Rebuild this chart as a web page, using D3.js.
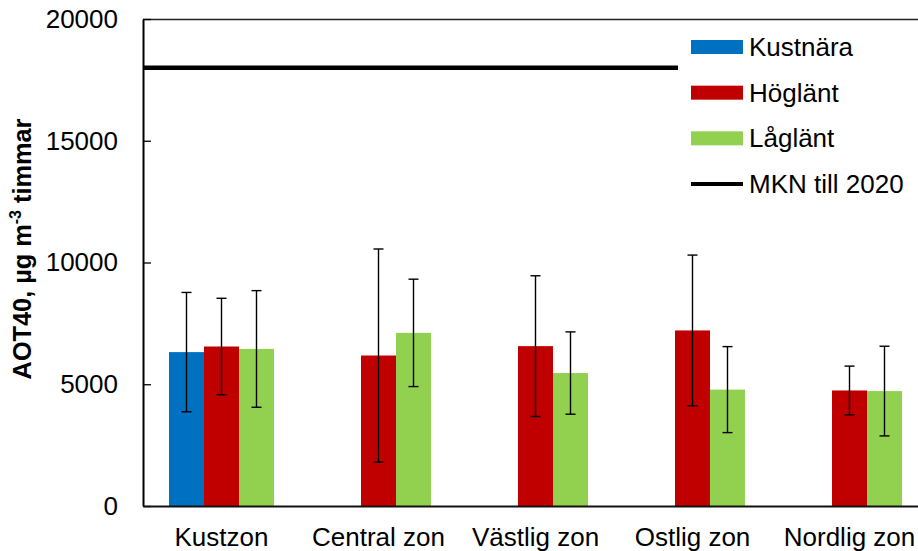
<!DOCTYPE html>
<html><head><meta charset="utf-8">
<script src="https://cdn.jsdelivr.net/npm/d3@7"></script>
<style>
html,body{margin:0;padding:0;background:#fff;overflow:hidden}
text{font-family:"Liberation Sans",Arial,sans-serif;}
</style></head>
<body><svg id="c" width="918" height="551"></svg>
<script>
const categories = ["Kustzon","Central zon","Västlig zon","Ostlig zon","Nordlig zon"];
const seriesNames = ["Kustnära","Höglänt","Låglänt"];
const seriesColors = ["#0070C0","#C00000","#92D050"];
const kustnara = [6320, null, null, null, null];
const kustnaraErr = [2450, null, null, null, null];
const hoglant = [6550, 6180, 6565, 7210, 4745];
const hoglantErr = [1980, 4375, 2890, 3095, 1000];
const laglant = [6450, 7110, 5460, 4780, 4720];
const laglantErr = [2395, 2205, 1690, 1766, 1842];
const mknValue = 18000;
const mknLabel = "MKN till 2020";
const yTicks = [0, 5000, 10000, 15000, 20000];

(function(){
const svg = d3.select("#c");
const pLeft = 143, pRight = 928, pTop = 19, pBottom = 506;
const fs = 26;

const y = d3.scaleLinear().domain([0, 20000]).range([pBottom, pTop]);
const x0 = d3.scaleBand().domain(categories).range([pLeft, pRight]).padding(0);
const x1 = d3.scaleBand().domain(seriesNames).range([0, x0.bandwidth()]).paddingInner(0).paddingOuter(0.743);

const values = [kustnara, hoglant, laglant];
const errs = [kustnaraErr, hoglantErr, laglantErr];

const data = [];
categories.forEach((c, i) => {
  seriesNames.forEach((s, j) => {
    if (values[j][i] != null) data.push({c, s, j, v: values[j][i], e: errs[j][i]});
  });
});

// bars
svg.append("g").selectAll("rect").data(data).join("rect")
  .attr("x", d => x0(d.c) + x1(d.s))
  .attr("y", d => y(d.v))
  .attr("width", x1.bandwidth())
  .attr("height", d => y(0) - y(d.v))
  .attr("fill", d => seriesColors[d.j]);

// error bars
const eg = svg.append("g").attr("stroke", "#000").attr("stroke-width", 1.4);
data.forEach(d => {
  const cx = x0(d.c) + x1(d.s) + x1.bandwidth() / 2;
  eg.append("line").attr("x1", cx).attr("x2", cx).attr("y1", y(d.v + d.e)).attr("y2", y(d.v - d.e));
  eg.append("line").attr("x1", cx - 5).attr("x2", cx + 5).attr("y1", y(d.v + d.e)).attr("y2", y(d.v + d.e));
  eg.append("line").attr("x1", cx - 5).attr("x2", cx + 5).attr("y1", y(d.v - d.e)).attr("y2", y(d.v - d.e));
});

// MKN line
svg.append("line").attr("x1", pLeft).attr("x2", pRight)
  .attr("y1", y(mknValue)).attr("y2", y(mknValue))
  .attr("stroke", "#000").attr("stroke-width", 4.5);

// top border
svg.append("line").attr("x1", pLeft).attr("x2", pRight).attr("y1", pTop + 0.5).attr("y2", pTop + 0.5)
  .attr("stroke", "#222").attr("stroke-width", 1.5);

// y axis
const yAxis = d3.axisLeft(y).tickValues(yTicks).tickSizeInner(-8).tickSizeOuter(0).tickPadding(25).tickFormat(d3.format("d"));
const yg = svg.append("g").attr("transform", `translate(${pLeft},0)`).call(yAxis);
yg.select(".domain").attr("stroke", "#000").attr("stroke-width", 2);
yg.selectAll(".tick line").attr("stroke", "#000").attr("stroke-width", 1.3);
yg.selectAll(".tick text").attr("font-size", fs).attr("fill", "#000")
  .attr("font-family", '"Liberation Sans",Arial,sans-serif');

// x axis
const xAxis = d3.axisBottom(x0).tickSize(0).tickPadding(22);
const xg = svg.append("g").attr("transform", `translate(0,${pBottom})`).call(xAxis);
xg.select(".domain").attr("stroke", "#111").attr("stroke-width", 2);
xg.selectAll(".tick text").attr("font-size", fs).attr("fill", "#000")
  .attr("font-family", '"Liberation Sans",Arial,sans-serif');

// y label
const yl = svg.append("text").attr("transform", "translate(31,249) rotate(-90)")
  .attr("text-anchor", "middle").attr("font-weight", "bold").attr("font-size", 25.3).attr("fill", "#000");
yl.append("tspan").text("AOT40, µg m");
yl.append("tspan").attr("dy", -10).attr("font-size", 16).text("-3");
yl.append("tspan").attr("dy", 10).text(" timmar");

// legend
const lg = svg.append("g");
lg.append("rect").attr("x", 678).attr("y", pTop + 2).attr("width", 240).attr("height", 185).attr("fill", "#fff");
const legendItems = seriesNames.map((s, j) => ({label: s, color: seriesColors[j], type: "rect"}))
  .concat([{label: mknLabel, color: "#000", type: "line"}]);
const ly = d3.scaleLinear().domain([0, 3]).range([47, 184]);
legendItems.forEach((it, i) => {
  const cy = ly(i);
  if (it.type === "rect") {
    lg.append("rect").attr("x", 691).attr("y", cy - 7).attr("width", 52).attr("height", 14).attr("fill", it.color);
  } else {
    lg.append("line").attr("x1", 691).attr("x2", 743).attr("y1", cy).attr("y2", cy).attr("stroke", it.color).attr("stroke-width", 4);
  }
  lg.append("text").attr("x", 749).attr("y", cy + 9).attr("font-size", fs).attr("fill", "#000").text(it.label);
});
})();
</script></body></html>
